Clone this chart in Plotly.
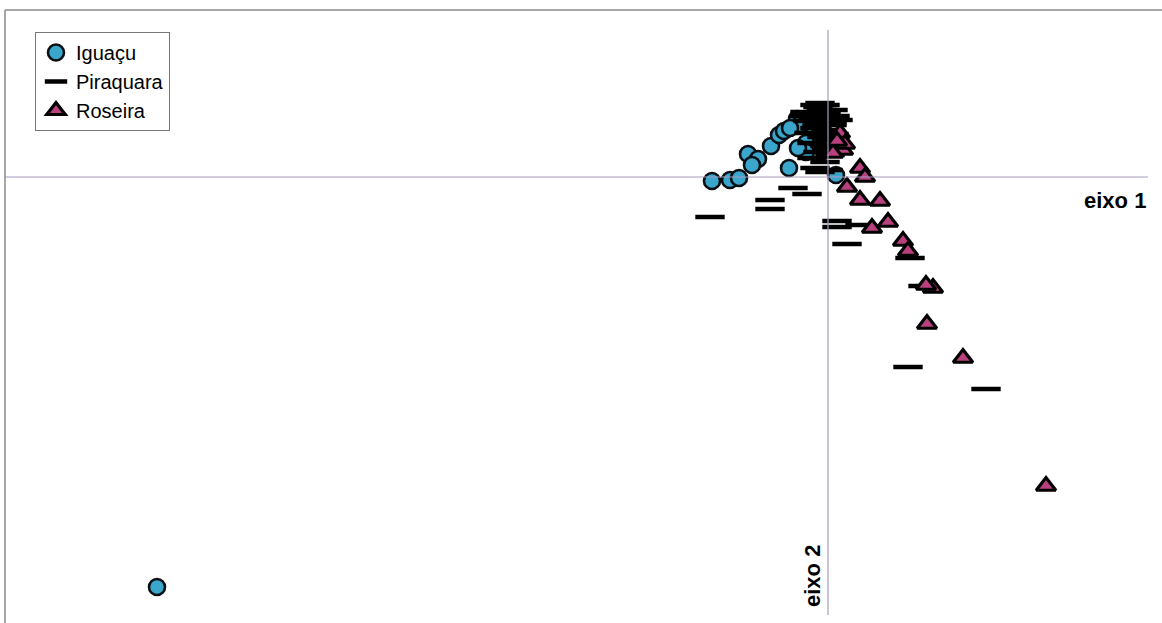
import plotly.graph_objects as go

# Ordination scores (axis 1, axis 2)
iguacu_x = [-6.71, -1.16, -0.98, -0.89, -0.80, -0.70, -0.76, -0.57, -0.49, -0.44,
            -0.39, -0.31, -0.28, -0.22, -0.22, -0.30, -0.13, -0.06, 0.08, -0.18, -0.38]
iguacu_y = [-4.10, -0.04, -0.03, -0.01, 0.23, 0.18, 0.12, 0.31, 0.42, 0.46,
            0.09, 0.58, 0.53, 0.34, 0.25, 0.29, 0.47, 0.39, 0.02, 0.59, 0.49]

piraquara_x = [-1.18, -0.58, -0.58, -0.35, -0.21, 0.09, 0.09, 0.32, 0.19, 0.80, 1.58,
               -0.10, -0.06, -0.16, -0.02, -0.12, 0.01, -0.20, -0.08, 0.04, -0.13,
               -0.02, -0.19, -0.06, 0.02, -0.16, -0.03, -0.10, 0.02, -0.16, -0.03,
               -0.13, 0.00, -0.08, 0.95, 0.82,
               -0.13, -0.03, -0.08, 0.05, 0.07, -0.23, 0.10, -0.05, -0.15, 0.04,
               -0.24, -0.11, 0.06, -0.01]
piraquara_y = [-0.40, -0.23, -0.32, -0.11, -0.17, -0.44, -0.50, -0.48, -0.67, -1.90, -2.12,
               0.70, 0.67, 0.64, 0.64, 0.60, 0.59, 0.56, 0.54, 0.52, 0.49,
               0.47, 0.44, 0.40, 0.37, 0.34, 0.31, 0.25, 0.22, 0.19, 0.15,
               0.09, 0.07, 0.05, -1.09, -0.81,
               0.72, 0.72, 0.74, 0.67, 0.61, 0.65, 0.57, 0.62, 0.58, 0.55,
               0.61, 0.51, 0.43, 0.28]

roseira_x = [0.12, 0.15, 0.05, 0.32, 0.37, 0.19, 0.32, 0.52, 0.60, 0.44, 0.75, 0.80,
             1.05, 0.98, 0.99, 1.35, 2.18, 0.17, 0.09]
roseira_y = [0.44, 0.27, 0.24, 0.09, 0.00, -0.10, -0.23, -0.24, -0.45, -0.51, -0.64, -0.74,
             -1.11, -1.08, -1.47, -1.81, -3.09, 0.33, 0.36]

series_names = ["Iguaçu", "Piraquara", "Roseira"]

fig = go.Figure()

fig.add_trace(go.Scatter(
    x=iguacu_x, y=iguacu_y, mode="markers", name=series_names[0],
    marker=dict(symbol="circle", size=16, color="#3aa6cc",
                line=dict(color="#0c1014", width=2.6)),
))
fig.add_trace(go.Scatter(
    x=piraquara_x, y=piraquara_y, mode="markers", name=series_names[1],
    marker=dict(symbol="line-ew", size=21, color="#000000",
                line=dict(color="#000000", width=4.5)),
))
fig.add_trace(go.Scatter(
    x=roseira_x, y=roseira_y, mode="markers", name=series_names[2],
    marker=dict(symbol="triangle-up", size=17, color="#b8407e",
                line=dict(color="#000000", width=3.2)),
))

W, H = 1162, 623
x0_px, y0_px, scale = 828, 177, 100.0

def px_to_x(px):
    return (px - x0_px) / scale

def py_to_y(py):
    return (y0_px - py) / scale

axis_col = "#a89cc0"
shapes = [
    # axis 1 (horizontal) and axis 2 (vertical) through origin
    dict(type="line", xref="x", yref="y", x0=px_to_x(5), x1=px_to_x(1148), y0=0, y1=0,
         line=dict(color=axis_col, width=1.2)),
    dict(type="line", xref="x", yref="y", x0=0, x1=0, y0=py_to_y(30), y1=py_to_y(615),
         line=dict(color=axis_col, width=1.2)),
    # outer chart border (top and left)
    dict(type="line", xref="paper", yref="paper", x0=5 / W, x1=1, y0=1 - 10 / H, y1=1 - 10 / H,
         line=dict(color="#8a8a8a", width=1.5)),
    dict(type="line", xref="paper", yref="paper", x0=5 / W, x1=5 / W, y0=1 - 10 / H, y1=0,
         line=dict(color="#8a8a8a", width=1.5)),
]

fig.update_layout(
    width=W, height=H, autosize=False,
    margin=dict(l=0, r=0, t=0, b=0, pad=0),
    paper_bgcolor="white", plot_bgcolor="white",
    xaxis=dict(range=[px_to_x(0), px_to_x(W)], visible=False, fixedrange=True),
    yaxis=dict(range=[py_to_y(H), py_to_y(0)], visible=False, fixedrange=True),
    shapes=shapes,
    showlegend=True,
    legend=dict(x=35 / W, y=1 - 32 / H, xanchor="left", yanchor="top",
                bgcolor="white", bordercolor="#777777", borderwidth=1,
                font=dict(family="Liberation Sans, Arial", size=20, color="#000000"),
                itemwidth=30, tracegroupgap=0),
    annotations=[
        dict(text="<b>eixo 1</b>", x=1148 / W, y=1 - 200 / H, xref="paper", yref="paper",
             xanchor="right", yanchor="middle", showarrow=False,
             font=dict(family="Liberation Sans, Arial", size=22, color="#000000")),
        dict(text="<b>eixo 2</b>", x=812 / W, y=1 - 576 / H, xref="paper", yref="paper",
             xanchor="center", yanchor="middle", showarrow=False, textangle=-90,
             font=dict(family="Liberation Sans, Arial", size=22, color="#000000")),
    ],
)

fig.write_html("out.html")
